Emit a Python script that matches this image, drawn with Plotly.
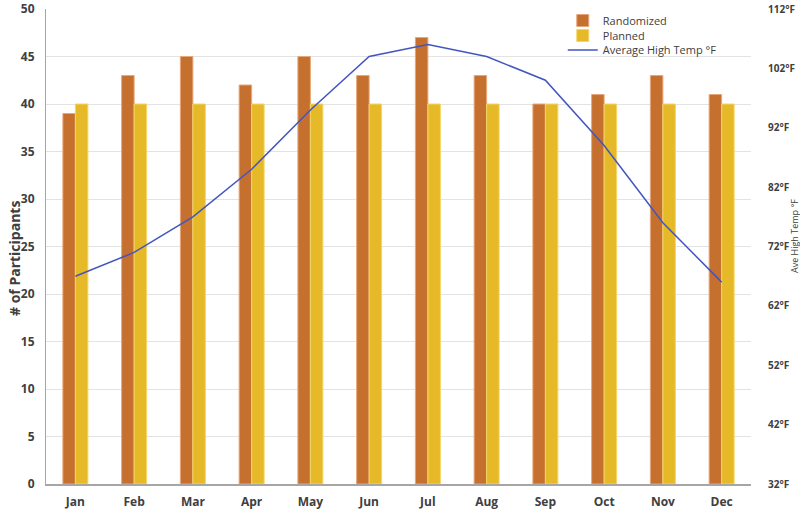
import plotly.graph_objects as go

months = ["Jan", "Feb", "Mar", "Apr", "May", "Jun", "Jul", "Aug", "Sep", "Oct", "Nov", "Dec"]
randomized = [39, 43, 45, 42, 45, 43, 47, 43, 40, 41, 43, 41]
planned = [40, 40, 40, 40, 40, 40, 40, 40, 40, 40, 40, 40]
avg_high_temp = [67, 71, 77, 85, 95, 104, 106, 104, 100, 89, 76, 66]

FONT = "Open Sans"
tick_font = dict(family=FONT, size=12, color="#404040", weight="bold")

W, H = 800, 510
ML, MR, MT, MB = 46, 49, 9, 26
PW = W - ML - MR
PH = H - MT - MB


def py(page_y):
    return (H - MB - page_y) / PH


def px(page_x):
    return (page_x - ML) / PW


fig = go.Figure()
fig.add_trace(go.Bar(
    x=months, y=randomized, name="Randomized", legend="legend",
    marker=dict(color="#C5702F", line=dict(color="#E8A77A", width=1)),
))
fig.add_trace(go.Bar(
    x=months, y=planned, name="Planned", legend="legend2",
    marker=dict(color="#E5B928", line=dict(color="#F5D566", width=1)),
))
fig.add_trace(go.Scatter(
    x=months, y=avg_high_temp, name="Average High Temp °F", mode="lines", legend="legend3",
    line=dict(color="#4255C0", width=1.5), yaxis="y2",
))

leg_common = dict(xanchor="left", yanchor="middle", bgcolor="rgba(0,0,0,0)",
                  font=dict(family=FONT, size=11, color="#404040"), itemwidth=30)

fig.update_layout(
    width=W, height=H,
    margin=dict(l=ML, r=MR, t=MT, b=MB, autoexpand=False),
    paper_bgcolor="white", plot_bgcolor="white",
    barmode="group", bargap=0.575, bargroupgap=0,
    showlegend=True,
    legend=dict(x=0.733, y=py(20.5), **leg_common),
    legend2=dict(x=0.733, y=py(35.5), **leg_common),
    legend3=dict(x=0.733, y=py(50), **leg_common),
    xaxis=dict(
        showgrid=False, showline=True, linecolor="#A6A6A6", linewidth=1.5,
        tickfont=tick_font, ticks="", ticklabelstandoff=6, automargin=False,
    ),
    yaxis=dict(
        range=[0, 50], dtick=5, showgrid=True, gridcolor="#E3E3E3", gridwidth=1,
        showline=True, linecolor="#A6A6A6", linewidth=1, zeroline=False,
        tickfont=tick_font, ticks="", ticklabelstandoff=8, automargin=False,
    ),
    yaxis2=dict(
        range=[32, 112], tick0=32, dtick=10, overlaying="y", side="right", showgrid=False,
        showline=False, zeroline=False, ticksuffix="°F",
        tickfont=dict(family=FONT, size=10, color="#404040", weight="bold"), ticks="",
        ticklabelstandoff=16, automargin=False,
    ),
    annotations=[
        dict(text="# of Participants", xref="paper", yref="paper", x=px(14), y=py(259),
             xanchor="center", yanchor="middle", textangle=-90, showarrow=False,
             font=dict(family=FONT, size=14, color="#404040", weight="bold")),
        dict(text="Ave High Temp °F", xref="paper", yref="paper", x=px(794), y=py(236),
             xanchor="center", yanchor="middle", textangle=-90, showarrow=False,
             font=dict(family=FONT, size=9, color="#404040")),
    ],
)

fig.write_html("out.html", config={"displayModeBar": False},
               post_script="document.body.style.margin='0';")
